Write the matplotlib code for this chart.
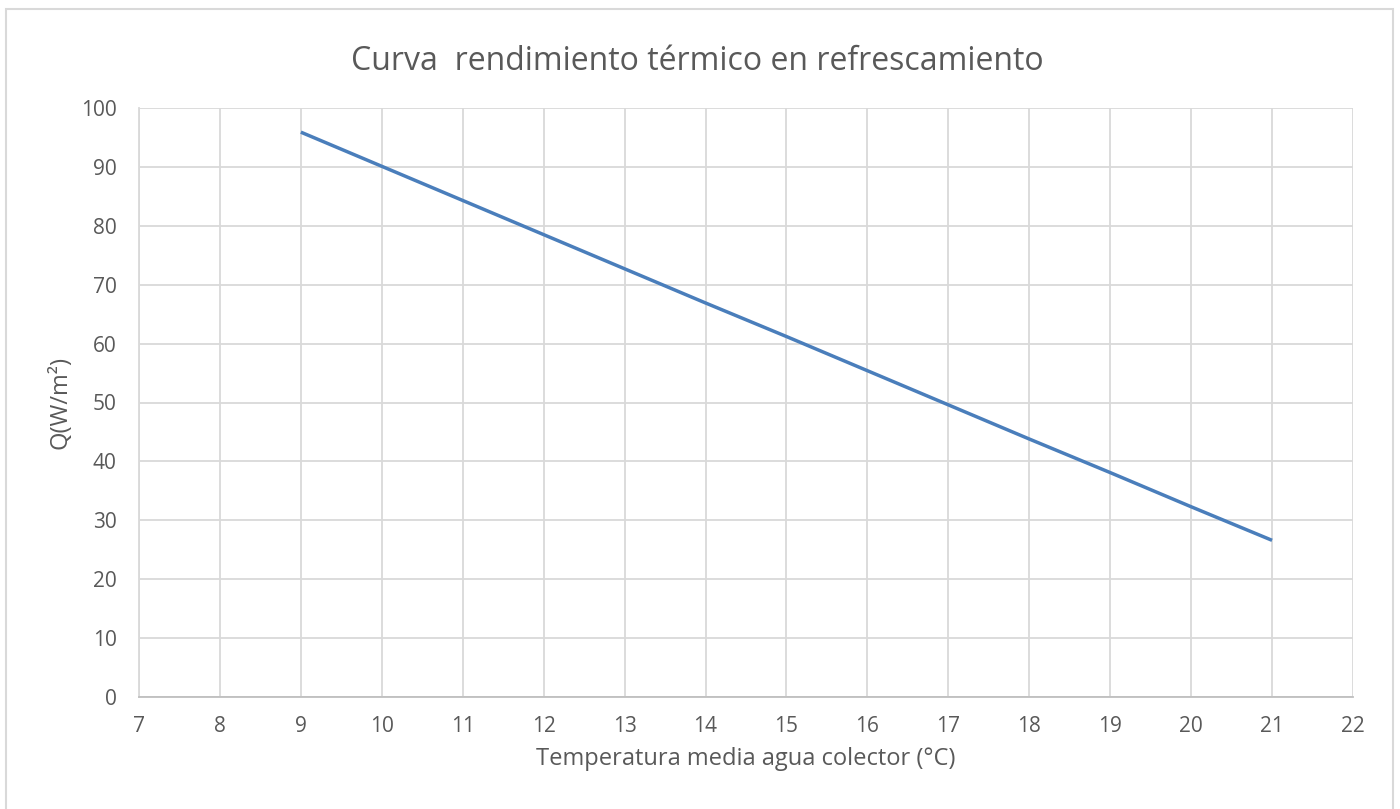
import matplotlib
matplotlib.use('Agg')
import matplotlib.pyplot as plt
from matplotlib.patches import Rectangle

# data
temp = [9, 10, 11, 12, 13, 14, 15, 16, 17, 18, 19, 20, 21]
q = [95.9, 90.1, 84.3, 78.5, 72.7, 66.9, 61.2, 55.4, 49.6, 43.8, 38.1, 32.3, 26.6]
xticks = list(range(7, 23))
yticks = list(range(0, 101, 10))

plt.rcParams['font.family'] = ['Open Sans', 'DejaVu Sans']
txt = '#595959'
grid = '#d9d9d9'

fig = plt.figure(figsize=(14, 8.09), dpi=100)
# chart area border
fig.patches.append(Rectangle((6/1400, -0.02), 1387/1400, 1 - 9/809 + 0.02,
                             transform=fig.transFigure, fill=False,
                             edgecolor=grid, lw=1.5))

ax = fig.add_axes([139/1400, 1 - 697/809, (1353-139)/1400, (697-108)/809])
ax.plot(temp, q, color='#4a7ebb', lw=2.5, solid_capstyle='butt')

ax.set_xlim(7, 22)
ax.set_ylim(0, 100)
ax.set_xticks(xticks)
ax.set_yticks(yticks)
ax.grid(True, color=grid, lw=1.3)
ax.set_axisbelow(True)
for s in ['top', 'right']:
    ax.spines[s].set_visible(False)
ax.spines['left'].set_color(grid)
ax.spines['bottom'].set_color('#bfbfbf')
ax.spines['left'].set_linewidth(1.3)
ax.spines['bottom'].set_linewidth(1.3)
ax.tick_params(length=0, labelsize=15, colors=txt)
ax.tick_params(axis='x', pad=14)
ax.tick_params(axis='y', pad=16)

# title is centred on the whole chart, not on the plot area
ax.set_title('Curva  rendimiento térmico en refrescamiento', fontsize=23,
             color=txt, pad=27, x=(697-139)/1214)
ax.set_xlabel('Temperatura media agua colector (°C)', fontsize=17, color=txt, labelpad=7)
ax.set_ylabel('Q(W/m²)', fontsize=17, color=txt, labelpad=6)

fig.savefig('out.png', dpi=100)
